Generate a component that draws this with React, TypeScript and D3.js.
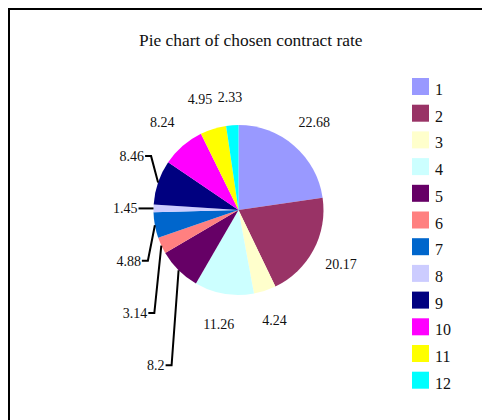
import React from 'react';
import * as d3 from 'd3';

const categories = ['1', '2', '3', '4', '5', '6', '7', '8', '9', '10', '11', '12'];
const rates = [22.68, 20.17, 4.24, 11.26, 8.2, 3.14, 4.88, 1.45, 8.46, 8.24, 4.95, 2.33];
const colors = ['#9999ff', '#993366', '#ffffcc', '#ccffff', '#660066', '#ff8080',
    '#0066cc', '#ccccff', '#000080', '#ff00ff', '#ffff00', '#00ffff'];
// slices whose labels sit in a stacked column on the left with a leader line
const leaderSlices = ['5', '6', '7', '8', '9'];

const W = 474;
const H = 412;
const cx = 230.5;
const cy = 202;
const r = 85;
const labelR = 116;
const font = '"Liberation Serif", "Times New Roman", serif';

const App: React.FC = () => {
    const pie = d3.pie<number>().sort(null).value(d => d);
    const arcs = pie(rates);
    const arc = d3.arc<d3.PieArcDatum<number>>().innerRadius(0).outerRadius(r);
    const labelArc = d3.arc<d3.PieArcDatum<number>>().innerRadius(labelR).outerRadius(labelR);
    const edgeArc = d3.arc<d3.PieArcDatum<number>>().innerRadius(r).outerRadius(r);

    const legendY = d3.scaleBand<string>().domain(categories).range([70, 70 + 26.7 * 12]);

    // leader label column: evenly spaced, anchored on the thin slice "8"
    const anchor = arcs[categories.indexOf('8')];
    const anchorY = edgeArc.centroid(anchor)[1];
    const step = 52.3;

    // outside labels, nudged apart when two neighbours would touch
    const outside = arcs
        .map((a, i) => ({ i, a, pos: labelArc.centroid(a) }))
        .filter(d => leaderSlices.indexOf(categories[d.i]) < 0);
    for (let j = 1; j < outside.length; j++) {
        const p = outside[j - 1].pos;
        const q = outside[j].pos;
        if (Math.abs(p[0] - q[0]) < 30 && Math.abs(p[1] - q[1]) < 12) {
            p[0] -= 4;
            q[1] += 3;
        }
    }

    return (
        <svg width={W} height={H} style={{ position: 'absolute', left: 8, top: 8, fontFamily: font }}>
            <rect x={1} y={1} width={W + 20} height={H + 20} fill="#fff" stroke="#000" strokeWidth={2} />
            <text x={242.8} y={37.7} textAnchor="middle" fontSize={17.4} fill="#111">
                Pie chart of chosen contract rate
            </text>
            <g transform={`translate(${cx},${cy})`}>
                {arcs.map((a, i) => (
                    <path key={i} d={arc(a) || ''} fill={colors[i]} />
                ))}
                {outside.map(({ i, a, pos }) => (
                    <text key={i} x={pos[0]} y={pos[1]} dy="0.35em" textAnchor="middle" fontSize={14} fill="#111">
                        {d3.format('')(a.data)}
                    </text>
                ))}
                {arcs.map((a, i) => {
                    const k = leaderSlices.indexOf(categories[i]);
                    if (k < 0) return null;
                    const [ex, ey] = edgeArc.centroid(a);
                    const ly = anchorY + (leaderSlices.indexOf('8') - k) * step;
                    const flat = Math.abs(ly - ey) < 4;
                    const elbowX = flat ? ex : ex - 7;
                    const endX = flat ? ex - 15 : elbowX - 6;
                    return (
                        <g key={i}>
                            <polyline
                                points={`${ex},${ey} ${elbowX},${ly} ${endX},${ly}`}
                                fill="none" stroke="#000" strokeWidth={2}
                            />
                            <text x={endX - 1} y={ly} dy="0.35em" textAnchor="end" fontSize={14} fill="#111">
                                {d3.format('')(a.data)}
                            </text>
                        </g>
                    );
                })}
            </g>
            <g>
                {categories.map((c, i) => (
                    <g key={c} transform={`translate(404,${legendY(c)})`}>
                        <rect width={17} height={17} fill={colors[i]} />
                        <text x={23} y={17} fontSize={16} fill="#111">{c}</text>
                    </g>
                ))}
            </g>
        </svg>
    );
};

export default App;
